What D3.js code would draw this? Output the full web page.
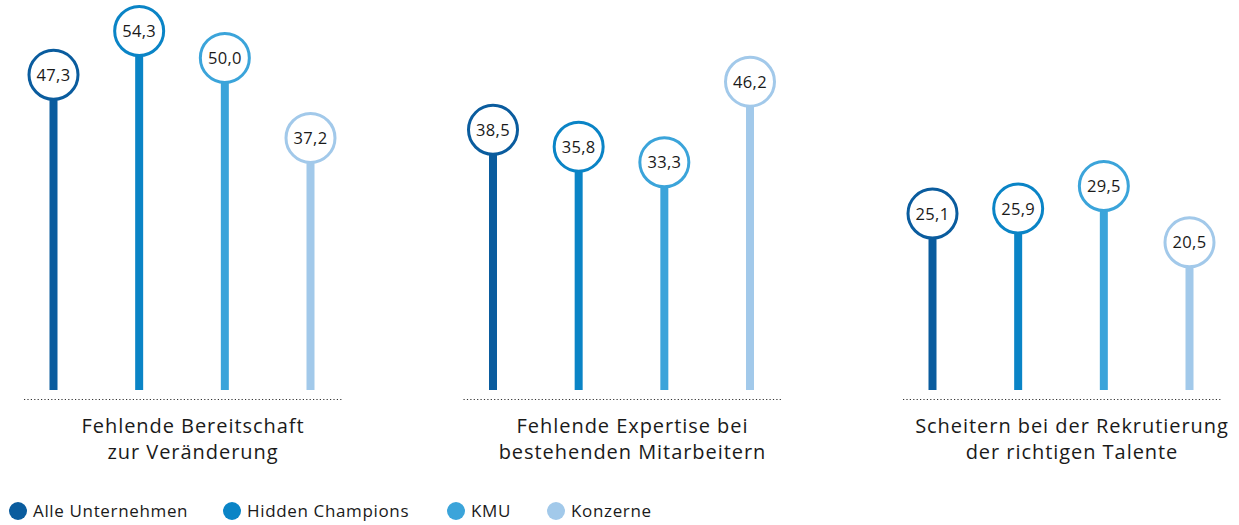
<!DOCTYPE html>
<html>
<head>
<meta charset="utf-8">
<script src="https://cdn.jsdelivr.net/npm/d3@7"></script>
<style>
  html, body { margin: 0; padding: 0; background: #ffffff; }
  svg { display: block; font-family: "Open Sans", Lato, sans-serif; }
</style>
</head>
<body>
<svg id="chart" width="1239" height="525"></svg>
<script>
// ---- data ----
const categories = [
  ["Fehlende Bereitschaft", "zur Veränderung"],
  ["Fehlende Expertise bei", "bestehenden Mitarbeitern"],
  ["Scheitern bei der Rekrutierung", "der richtigen Talente"]
];
const seriesNames = ["Alle Unternehmen", "Hidden Champions", "KMU", "Konzerne"];
const seriesColors = ["#0a5c9e", "#0a84c6", "#3ba4da", "#a2c9ea"];
const alleUnternehmen = [47.3, 38.5, 25.1];
const hiddenChampions = [54.3, 35.8, 25.9];
const kmu = [50.0, 33.3, 29.5];
const konzerne = [37.2, 46.2, 20.5];
const seriesValues = [alleUnternehmen, hiddenChampions, kmu, konzerne];

// ---- layout ----
const svg = d3.select("#chart");
const catIdx = categories.map((_, i) => i);
const x = d3.scalePoint().domain(catIdx).range([182, 1061]);
const xi = d3.scalePoint().domain(seriesNames).range([-128.5, 128.5]);
const y = d3.scaleLinear().domain([0, 54.3]).range([370.5, 31]);
const stemBottom = 390;
const baseY = 399.5;
const r = 24.5;
const fmt = v => d3.format(".1f")(v).replace(".", ",");

const points = [];
catIdx.forEach(c => {
  seriesNames.forEach((s, si) => {
    points.push({ c, s, si, v: seriesValues[si][c] });
  });
});

// baselines
svg.append("g").selectAll("line").data(catIdx).join("line")
  .attr("x1", c => x(c) - 158).attr("x2", c => x(c) + 160)
  .attr("y1", baseY).attr("y2", baseY)
  .attr("stroke", "#333").attr("stroke-width", 1.2)
  .attr("stroke-dasharray", "1.2,2.2");

// stems
svg.append("g").selectAll("line").data(points).join("line")
  .attr("x1", d => x(d.c) + xi(d.s)).attr("x2", d => x(d.c) + xi(d.s))
  .attr("y1", stemBottom).attr("y2", d => y(d.v))
  .attr("stroke", d => seriesColors[d.si]).attr("stroke-width", 8);

// circles
svg.append("g").selectAll("circle").data(points).join("circle")
  .attr("cx", d => x(d.c) + xi(d.s)).attr("cy", d => y(d.v))
  .attr("r", r).attr("fill", "#fff")
  .attr("stroke", d => seriesColors[d.si]).attr("stroke-width", 3);

// value labels
svg.append("g").selectAll("text").data(points).join("text")
  .attr("x", d => x(d.c) + xi(d.s)).attr("y", d => y(d.v))
  .attr("dy", "0.36em").attr("text-anchor", "middle")
  .attr("font-size", 16.5).attr("letter-spacing", 0.3).attr("fill", "#1a1a1a")
  .text(d => fmt(d.v));

// category labels
const lab = svg.append("g").selectAll("text").data(catIdx).join("text")
  .attr("x", c => x(c) + 11).attr("y", 433)
  .attr("text-anchor", "middle").attr("font-size", 20)
  .attr("letter-spacing", 0.95).attr("fill", "#1a1a1a");
lab.selectAll("tspan").data(c => categories[c].map(t => ({ t, c }))).join("tspan")
  .attr("x", d => x(d.c) + 11).attr("dy", (d, i) => i === 0 ? 0 : 26)
  .text(d => d.t);

// legend
const legendX = [18, 232, 456, 556];
const lg = svg.append("g").selectAll("g").data(seriesNames).join("g")
  .attr("transform", (d, i) => `translate(${legendX[i]},511)`);
lg.append("circle").attr("r", 9).attr("fill", (d, i) => seriesColors[i]);
lg.append("text").attr("x", 15).attr("dy", "0.36em")
  .attr("font-size", 17).attr("letter-spacing", 0.65)
  .attr("fill", "#1a1a1a").text(d => d);
</script>
</body>
</html>
